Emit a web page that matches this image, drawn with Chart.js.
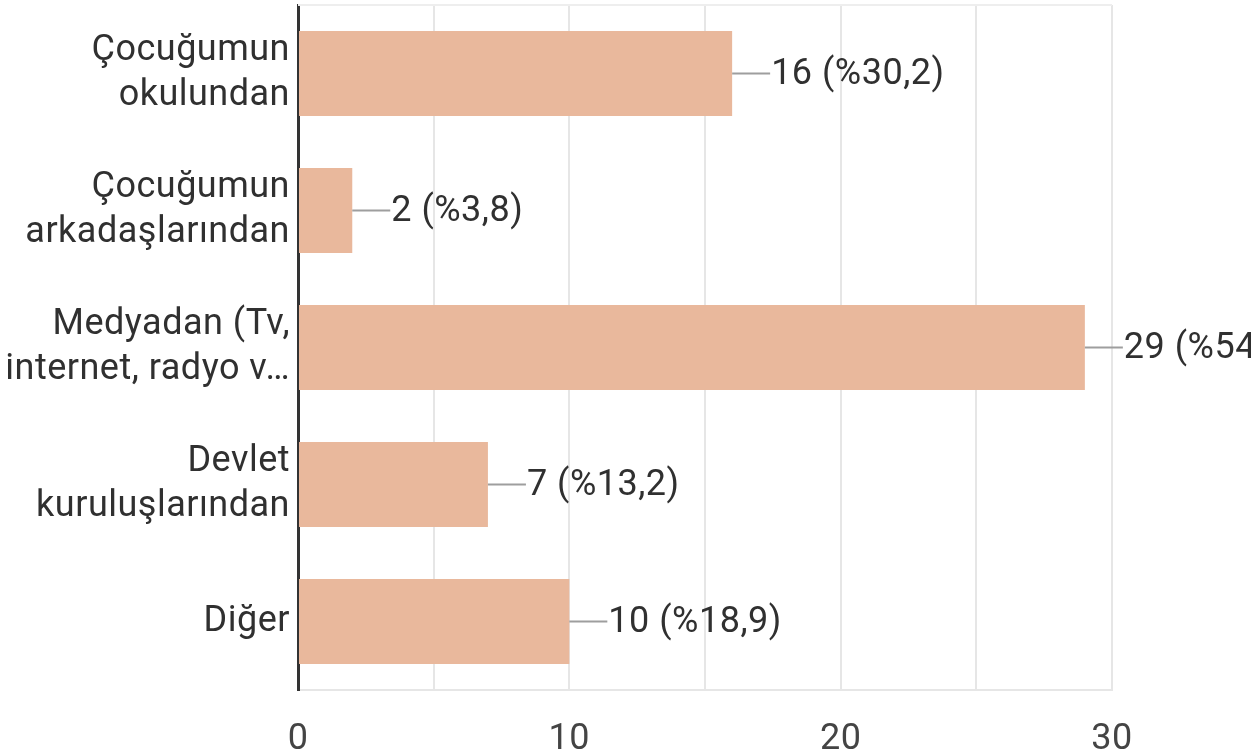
<!DOCTYPE html>
<html>
<head>
<meta charset="utf-8">
<script src="https://cdn.jsdelivr.net/npm/chart.js@4"></script>
<style>
  html, body { margin: 0; padding: 0; background: #fff; overflow: hidden; }
</style>
</head>
<body>
<canvas id="chart" width="1251" height="753"></canvas>
<script>
// data
const categories = [
    ['Çocuğumun', 'okulundan'],
    ['Çocuğumun', 'arkadaşlarından'],
    ['Medyadan (Tv,', 'internet, radyo v…'],
    ['Devlet', 'kuruluşlarından'],
    ['Diğer']
];
const counts = [16, 2, 29, 7, 10];
const percents = ['30,2', '3,8', '54,7', '13,2', '18,9'];
const xTicks = [0, 10, 20, 30];

const font = 'Roboto';

// reference text runs a touch wider than plain Roboto
const spacing = {
    id: 'spacing',
    beforeDraw(chart) {
        chart.ctx.letterSpacing = '0.5px';
    }
};

// leader line + "n (%p)" label at the end of each bar
const valueLabels = {
    id: 'valueLabels',
    afterDatasetsDraw(chart) {
        const ctx = chart.ctx;
        const meta = chart.getDatasetMeta(0);
        ctx.save();
        // faint top line of the plot
        ctx.strokeStyle = '#eeeeee';
        ctx.lineWidth = 2;
        ctx.beginPath();
        ctx.moveTo(chart.chartArea.left, chart.chartArea.top);
        ctx.lineTo(chart.chartArea.right, chart.chartArea.top);
        ctx.stroke();

        ctx.font = '36px ' + font;
        ctx.textAlign = 'left';
        ctx.textBaseline = 'middle';
        meta.data.forEach((bar, i) => {
            ctx.strokeStyle = '#9e9e9e';
            ctx.lineWidth = 2;
            ctx.beginPath();
            ctx.moveTo(bar.x, bar.y);
            ctx.lineTo(bar.x + 38, bar.y);
            ctx.stroke();
            ctx.fillStyle = '#303030';
            ctx.fillText(counts[i] + ' (%' + percents[i] + ')', bar.x + 39, bar.y + 1);
        });
        ctx.restore();
    }
};

const chart = new Chart(document.getElementById('chart'), {
    type: 'bar',
    data: {
        labels: categories,
        datasets: [{
            data: counts,
            backgroundColor: '#e9b89c',
            borderWidth: 0,
            barPercentage: 0.62,
            categoryPercentage: 1
        }]
    },
    options: {
        indexAxis: 'y',
        responsive: false,
        animation: false,
        layout: { padding: { top: 5, right: 139, left: 0, bottom: 0 } },
        plugins: {
            legend: { display: false },
            tooltip: { enabled: false }
        },
        scales: {
            x: {
                min: 0,
                max: 30,
                afterBuildTicks: (scale) => {
                    scale.ticks = [0, 5, 10, 15, 20, 25, 30].map(v => ({ value: v }));
                },
                afterFit: (scale) => {
                    scale.height = 63;
                    scale.paddingLeft = 0;
                    scale.paddingRight = 0;
                },
                grid: { color: '#e6e6e6', lineWidth: 2, drawTicks: false },
                border: { color: '#e6e6e6', width: 2 },
                ticks: {
                    padding: 28,
                    maxRotation: 0,
                    autoSkip: false,
                    color: '#444444',
                    font: { family: font, size: 36 },
                    callback: (v) => xTicks.includes(v) ? v : ''
                }
            },
            y: {
                afterFit: (scale) => {
                    scale.width = 298;
                    scale.paddingTop = 0;
                    scale.paddingBottom = 0;
                },
                grid: { display: false, drawTicks: false },
                border: { color: '#333333', width: 3 },
                ticks: {
                    padding: 8,
                    color: '#303030',
                    font: { family: font, size: 36, lineHeight: 1.25 }
                }
            }
        }
    },
    plugins: [spacing, valueLabels]
});
</script>
</body>
</html>
